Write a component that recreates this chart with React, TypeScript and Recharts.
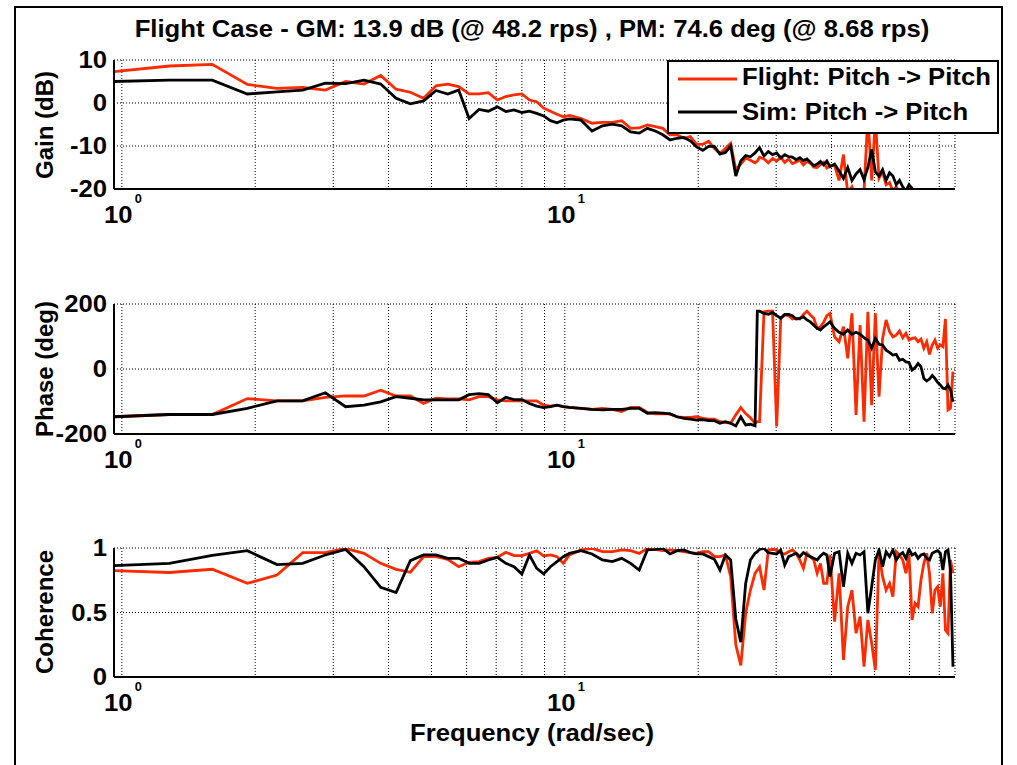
import React from 'react';
import { LineChart, Line, XAxis, YAxis, CartesianGrid } from 'recharts';

// frequency points (rad/sec)
const freq = [
  0.96, 1.28, 1.6, 1.92, 2.24, 2.56, 2.88, 3.2, 3.52, 3.84, 4.16, 4.48, 4.8, 5.12, 5.44, 5.76, 6.08, 6.4, 6.72, 7.04,
  7.36, 7.68, 8.0, 8.32, 8.64, 8.96, 9.28, 9.6, 9.92,
  10.24, 10.88, 11.52, 12.16, 12.8, 13.44, 14.08, 14.72, 15.36, 16.0, 16.64, 17.28, 17.92, 18.56, 19.2, 19.84,
  20.48, 21.12, 21.76, 22.4, 23.04, 23.68, 24.32, 24.96, 25.6, 26.24, 26.88, 27.2, 27.52, 28.16, 28.8, 29.44, 30.08,
  30.72, 31.36, 32.0, 32.64, 33.28, 33.92, 34.56, 35.2, 35.84, 36.48, 37.12, 37.76, 38.4, 39.04, 39.68,
  40.64, 41.6, 42.56, 43.52, 44.48, 45.44, 46.4, 47.36, 48.32, 49.28, 50.24, 51.2, 52.16, 53.12, 54.08, 55.04, 56.0,
  56.96, 57.92, 58.88, 59.84, 60.8, 61.76, 62.72, 63.68, 64.64, 65.6, 66.56, 67.52, 68.48, 69.44, 70.4, 71.36, 72.32,
  73.28, 74.24, 75.2,
];

// gain (dB)
const flightGain = [
  7.3, 8.6, 9.0, 4.3, 3.4, 3.6, 3.0, 5.0, 4.4, 6.4, 3.2, 2.5, 1.1, 4.0, 4.4, 3.8, 2.1, 2.1, 2.4, 0.7,
  1.5, 1.9, 2.1, 0.7, 0.3, -1.2, -1.9, -2.6, -3.2,
  -2.9, -3.6, -4.7, -4.5, -4.5, -4.1, -5.9, -5.8, -5.1, -5.5, -5.9, -7.4, -7.4, -8.2, -7.8, -9.6,
  -9.6, -8.9, -10.6, -11.7, -10.6, -9.4, -15.5, -14.2, -12.8, -13.3, -13.9, -13.5, -12.6, -13.0, -13.9, -12.9, -13.5,
  -12.6, -13.8, -13.0, -14.1, -13.7, -13.3, -14.4, -13.6, -14.0, -14.9, -15.0, -14.3, -13.8, -15.1, -14.6,
  -14.5, -18.0, -12.0, -21.0, -19.5, -22.0, -21.5, -20.5, -3.0, -18.0, -4.0, -17.5, -16.0, -19.0, -18.5, -20.5, -19.5,
  -21.0, -20.3, -22.5, -23.0, -23.0, -24.0, -23.0, -24.0, -25.0, -24.0, -25.0, -25.0, -26.0, -25.0, -26.0, -26.0, -27.0,
  -26.0, -27.0, -27.0,
];
const simGain = [
  5.0, 5.3, 5.3, 2.1, 2.6, 3.0, 4.6, 4.5, 5.3, 4.4, 1.1, -0.2, 0.5, 2.9, 2.1, 3.0, -3.6, -1.5, -1.9, -0.9,
  -2.0, -1.6, -2.2, -1.9, -2.4, -3.0, -4.1, -4.6, -4.0,
  -3.7, -4.0, -6.5, -5.3, -4.9, -5.3, -6.7, -7.0, -5.9, -6.5, -7.4, -8.6, -8.2, -8.0, -8.8, -10.2,
  -11.0, -10.1, -10.1, -11.9, -11.5, -10.0, -17.0, -13.5, -12.2, -12.5, -11.6, -11.0, -10.4, -12.3, -11.3, -12.0, -11.6,
  -12.8, -12.0, -12.5, -12.6, -13.2, -12.7, -13.4, -13.0, -13.8, -14.6, -14.2, -13.6, -14.4, -13.5, -14.8,
  -14.2, -15.8, -17.5, -15.0, -18.0, -16.5, -15.5, -17.8, -15.0, -10.8, -16.0, -17.0, -15.5, -18.0, -16.2, -17.0, -19.0,
  -18.0, -19.5, -20.5, -19.0, -19.8, -22.0, -23.0, -24.0, -24.0, -25.0, -25.0, -25.0, -26.0, -26.0, -26.0, -27.0, -27.0,
  -27.0, -28.0, -28.0,
];

// phase (deg)
const flightPhase = [
  -147, -140, -140, -91, -98, -98, -87, -83, -83, -65, -83, -83, -106, -90, -92, -92, -95, -85, -85, -95,
  -98, -98, -98, -98, -98, -111, -114, -111, -116,
  -118, -121, -124, -121, -124, -131, -118, -118, -134, -138, -138, -138, -147, -149, -149, -147,
  -152, -154, -154, -162, -164, -167, -141, -119, -137, -150, -167, -162, -162, 176, 178, 178, -177,
  156, 166, 164, 154, 156, 154, 168, 178, 166, 156, 125, 130, 144, 164, 171,
  99, 84, 130, 33, 171, -141, 135, -162, 176, -111, 171, -85, 94, 151, 115, 99, 104,
  117, 96, 110, 89, 94, 96, 84, 92, 64, 84, 45, 74, 89, 64, 74, 69, 154,
  -126, -121, -8,
];
const simPhase = [
  -147, -140, -140, -121, -98, -98, -73, -116, -111, -101, -85, -90, -95, -95, -95, -95, -79, -76, -79, -104,
  -87, -94, -94, -106, -114, -119, -116, -111, -116,
  -118, -121, -124, -126, -124, -124, -121, -121, -136, -134, -136, -138, -147, -152, -154, -157,
  -156, -159, -159, -167, -162, -167, -175, -147, -172, -170, -175, 178, 178, 171, 168, 174, 164,
  156, 168, 168, 164, 154, 156, 161, 151, 145, 135, 125, 120, 130, 137, 145,
  125, 113, 107, 120, 107, 113, 107, 96, 89, 64, 94, 76, 74, 58, 51, 43, 45,
  27, 30, 22, 20, -3, 4, 17, 7, -29, -37, -31, -20, -29, -41, -49, -59, -61,
  -49, -64, -101,
];

// coherence
const flightCoh = [
  0.824, 0.81, 0.835, 0.726, 0.79, 0.964, 0.964, 0.997, 0.958, 0.881, 0.835, 0.812, 0.933, 0.933, 0.912, 0.855, 0.889,
  0.894, 0.92, 0.928, 0.967, 0.941, 0.941, 0.958, 0.979, 0.938, 0.946, 0.933, 0.881,
  0.946, 0.985, 0.997, 0.972, 0.972, 0.985, 0.979, 0.958, 0.997, 0.989, 0.979, 0.985, 0.979, 0.972, 0.964, 0.958,
  0.971, 0.971, 0.933, 0.933, 0.946, 0.778, 0.25, 0.09, 0.494, 0.674, 0.804, 0.83, 0.855, 0.674, 0.985, 0.99, 0.985,
  0.959, 0.954, 0.971, 0.985, 0.959, 0.907, 0.842, 0.959, 0.933, 0.907, 0.804, 0.881, 0.726, 0.726, 0.946,
  0.429, 0.804, 0.132, 0.545, 0.674, 0.339, 0.468, 0.08, 0.442, 0.261, 0.054, 0.959, 0.778, 0.674, 0.726, 0.623, 0.971,
  0.946, 0.907, 0.804, 0.946, 0.442, 0.571, 0.545, 0.752, 0.881, 0.959, 0.804, 0.494, 0.674, 0.7, 0.545, 0.804, 0.364,
  0.339, 0.907, 0.804,
];
const simCoh = [
  0.863, 0.881, 0.943, 0.979, 0.871, 0.881, 0.946, 0.989, 0.855, 0.695, 0.654, 0.902, 0.946, 0.946, 0.92, 0.92, 0.881,
  0.881, 0.907, 0.928, 0.881, 0.855, 0.798, 0.946, 0.842, 0.8, 0.855, 0.894, 0.933,
  0.958, 0.979, 0.954, 0.907, 0.894, 0.92, 0.881, 0.829, 0.985, 0.989, 0.997, 0.954, 0.979, 0.985, 0.964, 0.954,
  0.954, 0.933, 0.912, 0.83, 0.946, 0.907, 0.45, 0.27, 0.726, 0.907, 0.959, 0.971, 0.99, 0.997, 0.964, 0.959, 0.954,
  0.985, 0.868, 0.933, 0.946, 0.959, 0.933, 0.964, 0.946, 0.933, 0.92, 0.907, 0.938, 0.959, 0.946, 0.778,
  0.959, 0.971, 0.7, 0.959, 0.881, 0.959, 0.946, 0.971, 0.494, 0.7, 0.907, 0.985, 0.855, 0.971, 0.933, 0.985, 0.907,
  0.946, 0.964, 0.92, 0.99, 0.946, 0.959, 0.92, 0.946, 0.954, 0.92, 0.907, 0.959, 0.971, 0.979, 0.959, 0.83,
  0.971, 0.985, 0.83, 0.08,
];

const xTicks = [1, 2, 3, 4, 5, 6, 7, 8, 9, 10, 20, 30, 40, 50, 60, 70];
const gainTicks = [-20, -10, 0, 10];
const phaseTicks = [-200, 0, 200];
const cohTicks = [0, 0.5, 1];

const FLIGHT_COLOR = '#ff2a00';
const SIM_COLOR = '#000000';
const FONT = '"Liberation Sans", Arial, Helvetica, sans-serif';
const STRETCH = 1.07;

const rows = freq.map((f, i) => ({
  f,
  flightGain: flightGain[i],
  simGain: simGain[i],
  flightPhase: flightPhase[i],
  simPhase: simPhase[i],
  flightCoh: flightCoh[i],
  simCoh: simCoh[i],
}));

function XTick(props: any) {
  const { x, y, payload } = props;
  const exp = payload.value === 1 ? '0' : payload.value === 10 ? '1' : null;
  if (exp === null) return <g />;
  return (
    <g transform={`translate(${x},${y}) scale(${STRETCH},1)`}>
      <text x={10} y={34} textAnchor="end" fontSize={24} fontWeight="bold" fill="#000" fontFamily={FONT}>
        10
      </text>
      <text x={12} y={14} textAnchor="start" fontSize={12} fontWeight="bold" fill="#000" fontFamily={FONT}>
        {exp}
      </text>
    </g>
  );
}

function YTick(props: any) {
  const { x, y, payload } = props;
  return (
    <g transform={`translate(${x},${y}) scale(${STRETCH},1)`}>
      <text x={0} y={0} dy="0.35em" textAnchor="end" fontSize={24} fontWeight="bold" fill="#000" fontFamily={FONT}>
        {payload.value}
      </text>
    </g>
  );
}

interface PanelProps {
  top: number;
  plotHeight: number;
  flightKey: string;
  simKey: string;
  domain: [number, number];
  ticks: number[];
}

function Panel({ top, plotHeight, flightKey, simKey, domain, ticks }: PanelProps) {
  return (
    <div style={{ position: 'absolute', left: 0, top }}>
      <LineChart
        width={1017}
        height={20 + plotHeight + 40}
        data={rows}
        margin={{ top: 20, right: 62, bottom: 0, left: 0 }}
      >
        <CartesianGrid stroke="#000" strokeDasharray="1 2" strokeWidth={1} />
        <XAxis
          dataKey="f"
          type="number"
          scale="log"
          domain={[0.96, 76]}
          allowDataOverflow
          ticks={xTicks}
          interval={0}
          tick={(p: any) => <XTick {...p} />}
          tickLine={false}
          tickSize={0}
          tickMargin={0}
          height={40}
          axisLine={{ stroke: '#000', strokeWidth: 2 }}
        />
        <YAxis
          type="number"
          domain={domain}
          allowDataOverflow
          ticks={ticks}
          interval={0}
          width={114}
          tick={(p: any) => <YTick {...p} />}
          tickLine={false}
          tickSize={0}
          tickMargin={7}
          axisLine={{ stroke: '#000', strokeWidth: 2 }}
        />
        <Line
          type="linear"
          dataKey={flightKey}
          stroke={FLIGHT_COLOR}
          strokeWidth={2.8}
          dot={false}
          isAnimationActive={false}
        />
        <Line
          type="linear"
          dataKey={simKey}
          stroke={SIM_COLOR}
          strokeWidth={2.8}
          dot={false}
          isAnimationActive={false}
        />
      </LineChart>
    </div>
  );
}

export default function App() {
  const bold = { fontFamily: FONT, fontWeight: 'bold' as const, fill: '#000' };
  return (
    <div style={{ position: 'absolute', left: 0, top: 0, width: 1017, height: 765, background: '#fff', fontFamily: FONT }}>
      <div
        style={{
          position: 'absolute',
          left: 14,
          top: 6,
          width: 989,
          height: 759,
          borderLeft: '2px solid #000',
          borderRight: '2px solid #000',
          borderTop: '2px solid #000',
          boxSizing: 'border-box',
        }}
      />

      <Panel top={40} plotHeight={129} flightKey="flightGain" simKey="simGain" domain={[-20, 10]} ticks={gainTicks} />
      <Panel top={284} plotHeight={130} flightKey="flightPhase" simKey="simPhase" domain={[-200, 200]} ticks={phaseTicks} />
      <Panel top={528} plotHeight={129} flightKey="flightCoh" simKey="simCoh" domain={[0, 1]} ticks={cohTicks} />

      <svg width={1017} height={765} style={{ position: 'absolute', left: 0, top: 0, pointerEvents: 'none' }}>
        <g transform={`translate(532,37) scale(${STRETCH},1)`}>
          <text textAnchor="middle" fontSize={24} {...bold}>
            {'Flight Case - GM: 13.9 dB (@ 48.2 rps) , PM: 74.6 deg (@ 8.68 rps)'}
          </text>
        </g>

        <text transform="translate(53,125) rotate(-90)" textAnchor="middle" fontSize={24} {...bold}>
          Gain (dB)
        </text>
        <text transform="translate(53,369) rotate(-90)" textAnchor="middle" fontSize={24} {...bold}>
          Phase (deg)
        </text>
        <text transform="translate(53,612) rotate(-90)" textAnchor="middle" fontSize={24} {...bold}>
          Coherence
        </text>

        <g transform={`translate(532,741) scale(${STRETCH},1)`}>
          <text textAnchor="middle" fontSize={24} {...bold}>
            Frequency (rad/sec)
          </text>
        </g>

        {/* legend */}
        <rect x={668} y={61} width={330} height={72} fill="#fff" stroke="#000" strokeWidth={2} />
        <line x1={678} y1={79} x2={737} y2={79} stroke={FLIGHT_COLOR} strokeWidth={2.8} />
        <line x1={678} y1={112} x2={737} y2={112} stroke={SIM_COLOR} strokeWidth={2.8} />
        <g transform={`translate(742,85) scale(${STRETCH},1)`}>
          <text fontSize={24} {...bold}>
            {'Flight: Pitch -> Pitch'}
          </text>
        </g>
        <g transform={`translate(742,120) scale(${STRETCH},1)`}>
          <text fontSize={24} {...bold}>
            {'Sim: Pitch -> Pitch'}
          </text>
        </g>
      </svg>
    </div>
  );
}
